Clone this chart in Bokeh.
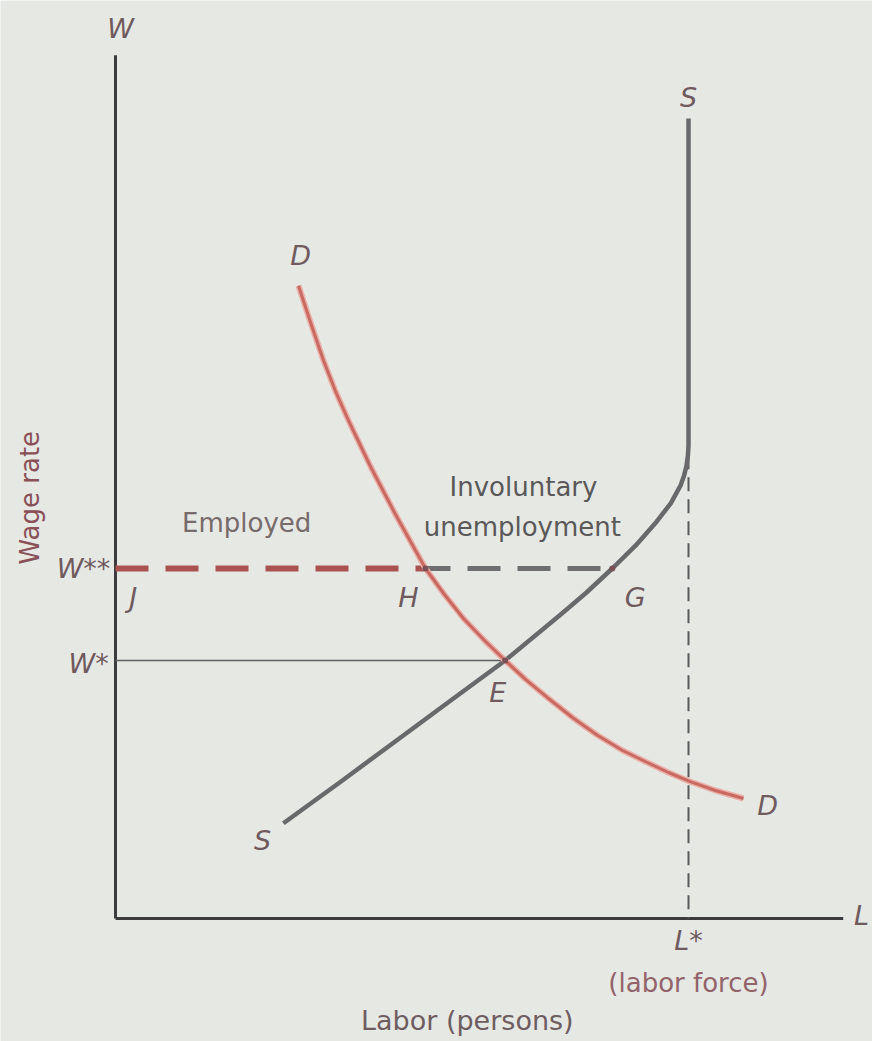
import math
from bokeh.plotting import figure
from bokeh.models import Range1d
from bokeh.core.properties import value
from bokeh.embed import file_html
from bokeh.resources import INLINE

# ---- data (labor on x, wage on y; L* = 100) ----
supply_L = [29.3, 39.3, 49.7, 58.5, 68.0, 77.7, 82.2, 86.7, 90.75, 94.2, 96.9, 98.6, 99.2, 99.65, 99.9, 100.0, 100.0]
supply_W = [11.9, 17.1, 22.6, 27.25, 32.25, 38.0, 40.75, 43.75, 46.6, 49.4, 51.9, 54.1, 55.3, 56.6, 57.9, 59.1, 100.0]
demand_L = [31.94, 34.0, 36.3, 38.4, 40.66, 44.5, 48.87, 54.1, 57.4, 60.73, 64.4, 68.0, 71.55, 75.4, 79.8,
            84.1, 88.5, 92.8, 96.5, 100.3, 104.7, 109.6]
demand_W = [79.1, 74.6, 69.75, 65.9, 62.25, 56.5, 50.5, 43.75, 40.5, 37.5, 34.75, 32.25, 29.9, 27.6, 25.1,
            22.9, 21.0, 19.5, 18.25, 17.1, 16.0, 15.0]
W_star = 32.25      # equilibrium wage
W_dstar = 43.75     # above-equilibrium wage W**
E_L = 68.0          # equilibrium employment
H_L = 54.1          # labor demanded at W**
G_L = 86.7          # labor supplied at W**
L_star = 100.0      # labor force
axis_top = 107.9
axis_right = 127.0
dash_top = 57.9

BG = "#e6e8e4"
FONT = value("DejaVu Sans")

p = figure(width=872, height=1041, output_backend="svg", toolbar_location=None,
           x_range=Range1d(-20.07, 132.11), y_range=Range1d(-15.375, 114.75),
           x_axis_type=None, y_axis_type=None, min_border=0)
p.outline_line_color = None
p.background_fill_color = BG
p.border_fill_color = BG
p.xgrid.visible = False
p.ygrid.visible = False

# axes
p.line([0, 0], [axis_top, 0], line_color="#3c3c3e", line_width=3)
p.line([0, axis_right], [0, 0], line_color="#3c3c3e", line_width=3)

# labor force dashed vertical
p.line([L_star, L_star], [dash_top, 0], line_color="#5a5a5c", line_width=2, line_dash="14 8")

# W* solid line
p.line([0, E_L], [W_star, W_star], line_color="#5f5f62", line_width=1.5)

# W** dashed: employed (red) and involuntary unemployment (grey)
p.line([0, H_L], [W_dstar, W_dstar], line_color="#a9524f", line_width=6, line_dash="33 17")
p.line([H_L, G_L], [W_dstar, W_dstar], line_color="#6e6e70", line_width=5, line_dash="33 17", line_dash_offset=8)

# curves
p.line(supply_L, supply_W, line_color="#69696c", line_width=4.5, line_join="round")
p.line(demand_L, demand_W, line_color="#eab0a8", line_width=6, line_join="round")
p.line(demand_L, demand_W, line_color="#c86a62", line_width=3, line_join="round")

# intersection dots
p.scatter([H_L, G_L, E_L], [W_dstar, W_dstar, W_star], size=6, fill_color="#7a5056", line_color=None)

def label(x, y, t, color, size="27px", italic=True, align="center", angle=0.0):
    p.text(x=[x], y=[y], text=[t], text_font=FONT, text_font_size=size,
           text_font_style="italic" if italic else "normal", text_color=color,
           text_align=align, text_baseline="middle", angle=angle)

LC = "#6f5a5e"
label(0.87, 111.25, "W", LC)
label(L_star, 102.6, "S", LC)
label(32.3, 82.9, "D", LC)
label(25.65, 9.75, "S", LC)
label(113.8, 14.1, "D", LC)
label(-0.9, W_dstar, "W**", LC, align="right")
label(-1.2, 31.9, "W*", LC, align="right")
label(3.1, 40.1, "J", LC)
label(H_L - 3.0, 40.1, "H", LC)
label(G_L + 4.0, 40.1, "G", LC)
label(E_L - 1.3, 28.25, "E", LC)
label(130.2, 0.4, "L", LC)
label(L_star, -2.75, "L*", LC)

label(-15.0, 52.6, "Wage rate", "#8a5058", size="26px", italic=False, angle=math.pi / 2)
label(22.9, 49.5, "Employed", "#766a6a", size="26px", italic=False)
label(71.2, 53.9, "Involuntary", "#5a5858", size="26px", italic=False)
label(71.0, 48.9, "unemployment", "#5a5858", size="26px", italic=False)
label(L_star, -8.1, "(labor force)", "#93636a", size="26px", italic=False)
label(61.4, -12.75, "Labor (persons)", "#6e5d60", size="27px", italic=False)

open("out.html", "w").write(file_html(p, INLINE))
